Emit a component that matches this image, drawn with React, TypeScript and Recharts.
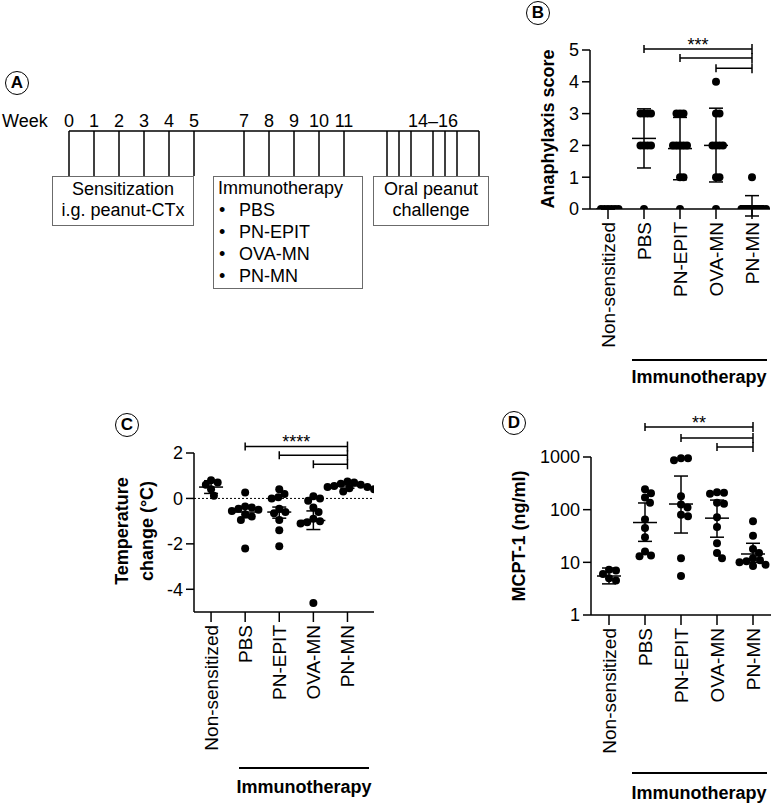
import React from 'react';
import { ComposedChart, ScatterChart, Scatter, XAxis, YAxis, ErrorBar, ReferenceLine } from 'recharts';

const FONT = '"Liberation Sans", Arial, Helvetica, sans-serif';
const INK = '#000';

// shared categories
const groups = ['Non-sensitized', 'PBS', 'PN-EPIT', 'OVA-MN', 'PN-MN'];

// A - protocol timeline (weeks)
const weekTicks = [0, 1, 2, 3, 4, 5, 7, 8, 9, 10, 11];
const challengeWeeks = [12.72, 13.2, 13.68, 14.56, 15.04, 15.52, 16.4];
const challengeLabelWeek = 14.56;
const challengeLabel = '14–16';
const immunoItems = ['PBS', 'PN-EPIT', 'OVA-MN', 'PN-MN'];

// B - anaphylaxis score
const scoreNonSens = [0, 0, 0, 0, 0, 0];
const scorePBS = [3, 3, 3, 3, 2, 2, 2, 2, 0];
const scoreEPIT = [3, 3, 3, 2, 2, 2, 2, 2, 1, 1, 0];
const scoreOVA = [4, 3, 3, 2, 2, 2, 2, 1, 1, 0];
const scorePNMN = [1, 0, 0, 0, 0, 0, 0, 0, 0];
const scoreMean = [0, 2.22, 1.9, 2.0, 0.1];
const scoreLow = [0, 1.29, 0.92, 0.85, -0.22];
const scoreHigh = [0, 3.15, 2.88, 3.17, 0.42];
const scoreTicks = [0, 1, 2, 3, 4, 5];
const scoreBracketY = [5.03, 4.75, 4.43];

// C - temperature change
const tempNonSens = [0.8, 0.7, 0.6, 0.4, 0.12];
const tempPBS = [0.26, -0.35, -0.4, -0.45, -0.5, -0.55, -0.7, -0.8, -0.95, -2.2];
const tempEPIT = [0.4, 0.2, 0.05, 0, -0.45, -0.6, -0.65, -0.95, -1.4, -2.1];
const tempOVA = [0.1, 0, -0.1, -0.4, -0.6, -0.9, -1.0, -1.05, -1.1, -4.6];
const tempPNMN = [0.75, 0.7, 0.65, 0.6, 0.55, 0.5, 0.5, 0.45, 0.4, 0.3];
const tempMean = [0.5, -0.6, -0.6, -0.97, 0.55];
const tempLow = [0.22, -0.85, -0.87, -1.37, 0.45];
const tempHigh = [0.78, -0.35, -0.38, -0.55, 0.63];
const tempTicks = [-4, -2, 0, 2];
const tempBracketY = [2.29, 1.9, 1.5];

// D - MCPT-1
const mcptNonSens = [7.2, 7, 6, 5, 4.5];
const mcptPBS = [245, 205, 170, 135, 65, 45, 30, 16, 13.5, 13];
const mcptEPIT = [950, 950, 870, 180, 125, 110, 80, 75, 12, 5.5];
const mcptOVA = [215, 210, 200, 135, 130, 72, 47, 23, 15, 12];
const mcptPNMN = [60, 32, 18, 15, 12, 11, 10.5, 10, 9, 8.5];
const mcptMean = [5.5, 57, 128, 69, 14.4];
const mcptLow = [3.9, 25, 36, 30, 10];
const mcptHigh = [7.8, 134, 435, 152, 23];
const mcptTicks = [1, 10, 100, 1000];
const mcptBracketY = [3700, 2300, 1550];

// comparisons: each group vs PN-MN
const bracketFrom = [1, 2, 3];
const bracketTo = 4;

const axisStyle = { stroke: INK, strokeWidth: 1.5 };

// spread overlapping points sideways (GraphPad style scatter)
function swarm(vals: number[], toPx: (v: number) => number, minDist: number, pxPerX: number) {
  const placed: { px: number; py: number }[] = [];
  const order = vals.map((_, i) => i).sort((a, b) => vals[b] - vals[a]);
  const offs = new Array(vals.length).fill(0);
  for (const i of order) {
    const py = toPx(vals[i]);
    let chosen = 0;
    for (let k = 0; k < 300; k++) {
      const cand = k === 0 ? 0 : (k % 2 ? 1 : -1) * Math.ceil(k / 2) * 0.5;
      if (placed.every((p) => (p.px - cand) ** 2 + (p.py - py) ** 2 >= minDist * minDist)) {
        chosen = cand;
        break;
      }
    }
    placed.push({ px: chosen, py });
    offs[i] = chosen / pxPerX;
  }
  return offs;
}

const Bracket = ({ x1, y1, x2, y2, stars }: any) => (
  <g>
    <path
      d={`M${x1},${y1 - 4}V${y1 + 4}M${x1},${y1}H${x2}M${x2},${y2 - 5}V${y2 + 5}`}
      stroke={INK}
      strokeWidth={1.5}
      fill="none"
    />
    {stars ? (
      <text x={(x1 + x2) / 2} y={y1 + 2} textAnchor="middle" fontSize={18} fontFamily={FONT} fill={INK}>
        {stars}
      </text>
    ) : null}
  </g>
);

const GroupTick = ({ x, y, payload }: any) => (
  <text
    x={x}
    y={y}
    transform={`rotate(-90 ${x} ${y})`}
    textAnchor="end"
    dy="0.35em"
    fontSize={19}
    fontFamily={FONT}
    fill={INK}
  >
    {groups[payload.value]}
  </text>
);

const dotShape = (p: any) => <circle cx={p.cx} cy={p.cy} r={4} fill={INK} />;
const meanShape = (p: any) => (
  <line x1={p.cx - 12} x2={p.cx + 12} y1={p.cy} y2={p.cy} stroke={INK} strokeWidth={1.5} />
);

function DotPanel(props: any) {
  const { left, top, width, height, yWidth, marginTop, xHeight, values, mean, low, high, bracketY, stars,
    yDomain, yTicks, log, pxPerUnit, minDist, clip, zeroLine } = props;
  const toPx = (v: number) => (log ? Math.log10(v) : v) * pxPerUnit;
  const dots = values.flatMap((vals: number[], gi: number) => {
    const offs = swarm(vals, toPx, minDist, 36);
    return vals.map((v, j) => ({ x: gi + offs[j], y: v }));
  });
  const means = mean.map((m: number, i: number) => ({ x: i, y: m, err: [m - low[i], high[i] - m] }));
  return (
    <div style={{ position: 'absolute', left, top }}>
      <ScatterChart width={width} height={height} margin={{ top: marginTop, right: 0, bottom: 0, left: 0 }}>
        <XAxis
          type="number"
          dataKey="x"
          domain={[-0.5, 4.5]}
          ticks={[0, 1, 2, 3, 4]}
          interval={0}
          height={xHeight}
          tickSize={10}
          tickMargin={3}
          tick={<GroupTick />}
          axisLine={axisStyle}
          tickLine={axisStyle}
        />
        <YAxis
          type="number"
          dataKey="y"
          width={yWidth}
          domain={yDomain}
          ticks={yTicks}
          scale={log ? 'log' : 'auto'}
          allowDataOverflow={!!clip}
          interval={0}
          tickSize={8}
          tickMargin={3}
          tick={{ fontSize: 18, fill: INK, fontFamily: FONT }}
          axisLine={axisStyle}
          tickLine={axisStyle}
        />
        {zeroLine && <ReferenceLine y={0} stroke={INK} strokeWidth={1} strokeDasharray="2 2" />}
        {bracketY.map((y: number, i: number) => (
          <ReferenceLine
            key={i}
            segment={[{ x: bracketFrom[i], y }, { x: bracketTo, y }]}
            ifOverflow="visible"
            shape={(p: any) => <Bracket {...p} stars={i === 0 ? stars : ''} />}
          />
        ))}
        <Scatter data={dots} isAnimationActive={false} shape={dotShape} />
        <Scatter data={means} isAnimationActive={false} shape={meanShape}>
          <ErrorBar dataKey="err" direction="y" width={7} stroke={INK} strokeWidth={1.5} isAnimationActive={false} />
        </Scatter>
      </ScatterChart>
    </div>
  );
}

function Timeline() {
  const data = weekTicks.map((w) => ({ w, v: 0.5 }));
  return (
    <div style={{ position: 'absolute', left: 0, top: 0 }}>
      <ComposedChart width={500} height={176} data={data} margin={{ top: 100, right: 21, bottom: 0, left: 69 }}>
        <XAxis
          orientation="top"
          type="number"
          dataKey="w"
          domain={[0, 16.4]}
          allowDataOverflow
          ticks={[...weekTicks, challengeLabelWeek]}
          interval={0}
          tickFormatter={(w: number) => (w === challengeLabelWeek ? challengeLabel : String(w))}
          tickLine={false}
          tickSize={4}
          tickMargin={0}
          height={31}
          axisLine={axisStyle}
          tick={{ fontSize: 18, fill: INK, fontFamily: FONT }}
        />
        <YAxis hide type="number" dataKey="v" domain={[0, 1]} allowDataOverflow />
        {[...weekTicks, ...challengeWeeks].map((w) => (
          <ReferenceLine key={w} x={w} ifOverflow="visible" stroke={INK} strokeWidth={1.5} />
        ))}
      </ComposedChart>
    </div>
  );
}

const Txt = ({ x, y, children, size = 18, bold = false, rotate = false }: any) => (
  <div
    style={{
      position: 'absolute',
      left: x,
      top: y,
      transform: `translate(-50%, -50%)${rotate ? ' rotate(-90deg)' : ''}`,
      fontSize: size,
      fontWeight: bold ? 700 : 400,
      fontFamily: FONT,
      lineHeight: 1,
      whiteSpace: 'nowrap',
      color: INK,
    }}
  >
    {children}
  </div>
);

const Rule = ({ x1, x2, y }: any) => (
  <div style={{ position: 'absolute', left: x1, top: y - 0.75, width: x2 - x1, height: 1.5, background: INK }} />
);

const Badge = ({ x, y, letter }: any) => (
  <div
    style={{
      position: 'absolute',
      left: x - 12,
      top: y - 12,
      width: 24,
      height: 24,
      boxSizing: 'border-box',
      border: '1.5px solid #000',
      borderRadius: '50%',
      display: 'flex',
      alignItems: 'center',
      justifyContent: 'center',
      fontFamily: FONT,
      fontWeight: 700,
      fontSize: 17,
      color: INK,
    }}
  >
    {letter}
  </div>
);

const Box = ({ left, top, width, height, style, children }: any) => (
  <div
    style={{
      position: 'absolute',
      left,
      top,
      width,
      height,
      boxSizing: 'border-box',
      border: '1.5px solid #6b6b6b',
      fontFamily: FONT,
      fontSize: 18,
      lineHeight: '21px',
      color: INK,
      whiteSpace: 'nowrap',
      ...style,
    }}
  >
    {children}
  </div>
);

export default function App() {
  return (
    <div style={{ position: 'absolute', left: 0, top: 0, width: 775, height: 804, background: '#fff', overflow: 'hidden' }}>
      {/* A */}
      <Badge x={17} y={83} letter="A" />
      <div style={{ position: 'absolute', left: 2, top: 112, fontFamily: FONT, fontSize: 18, lineHeight: '18px' }}>Week</div>
      <Timeline />
      <Box left={52} top={176} width={142} height={50} style={{ textAlign: 'center', paddingTop: 2 }}>
        <div>Sensitization</div>
        <div>i.g. peanut-CTx</div>
      </Box>
      <Box left={213} top={176} width={150} height={113} style={{ paddingLeft: 4, lineHeight: '22px' }}>
        <div>Immunotherapy</div>
        {immunoItems.map((t) => (
          <div key={t}>
            <span style={{ display: 'inline-block', width: 21, paddingLeft: 1, boxSizing: 'border-box' }}>•</span>
            {t}
          </div>
        ))}
      </Box>
      <Box left={373} top={176} width={116} height={50} style={{ textAlign: 'center', paddingTop: 2 }}>
        <div>Oral peanut</div>
        <div>challenge</div>
      </Box>

      {/* B */}
      <Badge x={538} y={13} letter="B" />
      <Txt x={548} y={129} bold rotate>Anaphylaxis score</Txt>
      <DotPanel
        left={520} top={0} width={250} height={400} yWidth={70} marginTop={50} xHeight={191}
        values={[scoreNonSens, scorePBS, scoreEPIT, scoreOVA, scorePNMN]}
        mean={scoreMean} low={scoreLow} high={scoreHigh}
        bracketY={scoreBracketY} stars="***"
        yDomain={[0, 5]} yTicks={scoreTicks} pxPerUnit={31.8} minDist={3.5} clip
      />
      <Rule x1={632} x2={767} y={360} />
      <Txt x={699} y={377} bold>Immunotherapy</Txt>

      {/* C */}
      <Badge x={127} y={425} letter="C" />
      <Txt x={122} y={531} bold rotate>Temperature</Txt>
      <Txt x={147} y={531} bold rotate>change (°C)</Txt>
      <DotPanel
        left={110} top={400} width={264} height={400} yWidth={84} marginTop={53} xHeight={188}
        values={[tempNonSens, tempPBS, tempEPIT, tempOVA, tempPNMN]}
        mean={tempMean} low={tempLow} high={tempHigh}
        bracketY={tempBracketY} stars="****"
        yDomain={[-5, 2]} yTicks={tempTicks} pxPerUnit={22.67} minDist={7} zeroLine
      />
      <Rule x1={239} x2={369} y={768} />
      <Txt x={304} y={787} bold>Immunotherapy</Txt>

      {/* D */}
      <Badge x={514} y={423} letter="D" />
      <Txt x={519} y={536} bold rotate>MCPT-1 (ng/ml)</Txt>
      <DotPanel
        left={520} top={400} width={251} height={404} yWidth={71} marginTop={57} xHeight={189}
        values={[mcptNonSens, mcptPBS, mcptEPIT, mcptOVA, mcptPNMN]}
        mean={mcptMean} low={mcptLow} high={mcptHigh}
        bracketY={mcptBracketY} stars="**"
        yDomain={[1, 1000]} yTicks={mcptTicks} log pxPerUnit={52.7} minDist={7}
      />
      <Rule x1={632} x2={767} y={773} />
      <Txt x={699} y={793} bold>Immunotherapy</Txt>
    </div>
  );
}
